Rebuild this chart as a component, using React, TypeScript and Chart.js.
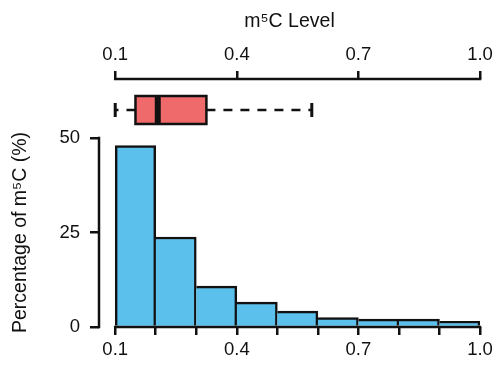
import React, { useEffect, useRef } from 'react';
import { Chart, registerables } from 'chart.js';

Chart.register(...registerables);

// ---- data ----
const binCenters = [0.15, 0.25, 0.35, 0.45, 0.55, 0.65, 0.75, 0.85, 0.95];
const percentages = [48, 23.8, 10.8, 6.6, 4.2, 2.5, 2.1, 2.1, 1.5];
// boxplot: min, q1, median, q3, max (whisker end)
const boxStats = [0.1, 0.15, 0.205, 0.325, 0.585];
const topTickValues = [0.1, 0.4, 0.7, 1.0];
const bottomTickValues = [0.1, 0.2, 0.3, 0.4, 0.5, 0.6, 0.7, 0.8, 0.9, 1.0];
const labeledTicks = [0.1, 0.4, 0.7, 1.0];
const yTickValues = [0, 25, 50];
const xTitle = 'm⁵C Level';
const yTitle = 'Percentage of m⁵C (%)';

const FONT = '"Liberation Sans", Arial, sans-serif';
const INK = '#111111';
const BAR_FILL = '#5CC0EC';
const BOX_FILL = '#EF6A6A';
const LW = 2.5;

const decorPlugin = {
  id: 'decor',
  afterDatasetsDraw(chart: any) {
    const ctx = chart.ctx;
    const x = chart.scales.x;
    const y = chart.scales.y;
    const top = chart.scales.x2;
    ctx.save();
    ctx.strokeStyle = INK;
    ctx.lineWidth = LW;
    ctx.lineCap = 'butt';
    // bottom axis line
    ctx.beginPath();
    ctx.moveTo(x.getPixelForValue(bottomTickValues[0]) - 1.25, y.getPixelForValue(0));
    ctx.lineTo(x.getPixelForValue(bottomTickValues[bottomTickValues.length - 1]) + 1.25, y.getPixelForValue(0));
    ctx.stroke();
    // top axis line
    ctx.beginPath();
    ctx.moveTo(top.getPixelForValue(topTickValues[0]) - 1.25, top.bottom);
    ctx.lineTo(top.getPixelForValue(topTickValues[topTickValues.length - 1]) + 1.25, top.bottom);
    ctx.stroke();
    // y axis line
    const yl = chart.chartArea.left;
    ctx.beginPath();
    ctx.moveTo(yl, y.getPixelForValue(yTickValues[0]) + 1.25);
    ctx.lineTo(yl, y.getPixelForValue(yTickValues[yTickValues.length - 1]) - 1.25);
    ctx.stroke();

    // boxplot
    const [mn, q1, med, q3, mx] = boxStats.map((v) => top.getPixelForValue(v));
    const cy = top.bottom + 31;
    const h = 28;
    ctx.setLineDash([9, 8]);
    ctx.beginPath();
    ctx.moveTo(q1, cy);
    ctx.lineTo(mn, cy);
    ctx.moveTo(q3, cy);
    ctx.lineTo(mx, cy);
    ctx.stroke();
    ctx.setLineDash([]);
    ctx.lineWidth = 3;
    ctx.beginPath();
    ctx.moveTo(mn, cy - 7);
    ctx.lineTo(mn, cy + 7);
    ctx.moveTo(mx, cy - 7);
    ctx.lineTo(mx, cy + 7);
    ctx.stroke();
    ctx.lineWidth = LW;
    ctx.fillStyle = BOX_FILL;
    ctx.fillRect(q1, cy - h / 2, q3 - q1, h);
    ctx.strokeRect(q1, cy - h / 2, q3 - q1, h);
    ctx.lineWidth = 6;
    ctx.beginPath();
    ctx.moveTo(med, cy - h / 2);
    ctx.lineTo(med, cy + h / 2);
    ctx.stroke();

    // y title
    const midY = (y.getPixelForValue(yTickValues[0]) + y.getPixelForValue(yTickValues[yTickValues.length - 1])) / 2;
    ctx.translate(21, midY);
    ctx.rotate(-Math.PI / 2);
    ctx.fillStyle = INK;
    ctx.font = `19.5px ${FONT}`;
    ctx.textAlign = 'center';
    ctx.textBaseline = 'middle';
    ctx.fillText(yTitle, 0, 0);
    ctx.restore();
  },
};

const isLabeled = (v: number) => labeledTicks.some((t) => Math.abs(t - v) < 1e-6);

export default function App() {
  const ref = useRef<HTMLCanvasElement | null>(null);
  useEffect(() => {
    if (!ref.current) return;
    const tickFont = { family: FONT, size: 18.5 };
    const chart = new Chart(ref.current, {
      type: 'bar',
      data: {
        datasets: [
          {
            data: binCenters.map((c, i) => ({ x: c, y: percentages[i] })),
            backgroundColor: BAR_FILL,
            borderColor: INK,
            borderWidth: (c: any) => ({
              top: LW,
              right: LW,
              bottom: 0,
              left: c.dataIndex === 0 ? LW : 0,
            }),
            barPercentage: 1,
            categoryPercentage: 1,
          } as any,
        ],
      },
      options: {
        responsive: false,
        animation: false,
        layout: { padding: { left: 0, right: 14, top: 0, bottom: 0 } },
        plugins: { legend: { display: false }, tooltip: { enabled: false } },
        scales: {
          x: {
            type: 'linear',
            position: 'bottom',
            min: 0.06,
            max: 1.0,
            offset: false,
            afterBuildTicks: (s: any) => {
              s.ticks = bottomTickValues.map((v) => ({ value: v }));
            },
            afterFit: (s: any) => {
              s.height = 40;
              s.paddingLeft = 0;
              s.paddingRight = 0;
            },
            grid: { drawOnChartArea: false, drawTicks: true, tickLength: 8, lineWidth: LW, color: INK, offset: false },
            border: { display: false },
            ticks: {
              padding: 4,
              font: tickFont,
              color: INK,
              maxRotation: 0,
              autoSkip: false,
              callback: (v: any) => (isLabeled(Number(v)) ? Number(v).toFixed(1) : ''),
            },
          },
          x2: {
            type: 'linear',
            position: 'top',
            min: 0.06,
            max: 1.0,
            offset: false,
            afterBuildTicks: (s: any) => {
              s.ticks = topTickValues.map((v) => ({ value: v }));
            },
            afterFit: (s: any) => {
              s.height = 79;
              s.paddingLeft = 0;
              s.paddingRight = 0;
            },
            grid: { drawOnChartArea: false, drawTicks: true, tickLength: 8, lineWidth: LW, color: INK, offset: false },
            border: { display: false },
            ticks: {
              padding: 5,
              font: tickFont,
              color: INK,
              maxRotation: 0,
              autoSkip: false,
              callback: (v: any) => Number(v).toFixed(1),
            },
            title: {
              display: true,
              text: xTitle,
              font: { family: FONT, size: 19.5 },
              color: INK,
              padding: { top: 10, bottom: 0 },
            },
          },
          y: {
            type: 'linear',
            min: 0,
            max: 65.6,
            afterBuildTicks: (s: any) => {
              s.ticks = yTickValues.map((v) => ({ value: v }));
            },
            afterFit: (s: any) => {
              s.width = 99;
              s.paddingTop = 0;
              s.paddingBottom = 0;
            },
            grid: { drawOnChartArea: false, drawTicks: true, tickLength: 9, lineWidth: LW, color: INK },
            border: { display: false },
            ticks: {
              padding: 10,
              font: tickFont,
              color: INK,
              callback: (v: any) => String(v),
            },
          },
        },
      } as any,
      plugins: [decorPlugin],
    });
    return () => chart.destroy();
  }, []);

  return (
    <div style={{ position: 'absolute', left: 0, top: 0, width: 494, height: 367, background: '#fff' }}>
      <canvas ref={ref} width={494} height={367} style={{ display: 'block' }} />
    </div>
  );
}
